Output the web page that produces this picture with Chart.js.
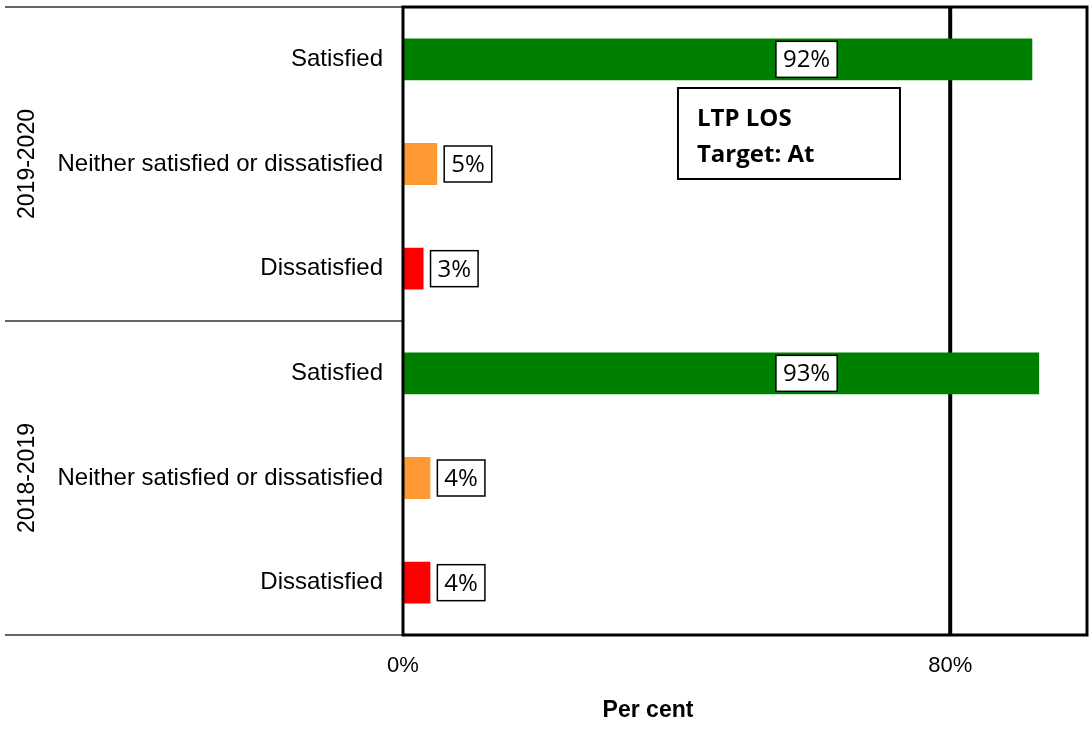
<!DOCTYPE html>
<html><head><meta charset="utf-8">
<script src="https://cdn.jsdelivr.net/npm/chart.js@4/dist/chart.umd.min.js"></script>
<style>html,body{margin:0;padding:0;background:#fff}#wrap{width:1091px;height:731px}</style>
</head><body><div id="wrap"><canvas id="c"></canvas></div>
<script>
const categories = ['Satisfied','Neither satisfied or dissatisfied','Dissatisfied','Satisfied','Neither satisfied or dissatisfied','Dissatisfied'];
const groups = ['2019-2020','2018-2019'];
const values = [92,5,3,93,4,4];
const barColors = ['#008000','#FF9933','#FF0000','#008000','#FF9933','#FF0000'];
const xTicks = [0,80];
const targetValue = 80;
const noteLines = ['LTP LOS','Target: At'];

const overlay = {
  id:'overlay',
  beforeDatasetsDraw(chart){
    const ctx = chart.ctx, a = chart.chartArea, x = chart.scales.x;
    const tx = x.getPixelForValue(targetValue);
    ctx.save();
    ctx.strokeStyle='#000'; ctx.lineWidth=4;
    ctx.beginPath(); ctx.moveTo(tx,a.top); ctx.lineTo(tx,a.bottom); ctx.stroke();
    ctx.restore();
  },
  afterDatasetsDraw(chart){
    const ctx = chart.ctx, a = chart.chartArea, x = chart.scales.x, y = chart.scales.y;
    ctx.save();
    ctx.strokeStyle = '#333'; ctx.lineWidth = 1.5;
    const step = (a.bottom - a.top)/categories.length;
    [0,3,6].forEach(i=>{
      const yy = a.top + i*step;
      ctx.beginPath(); ctx.moveTo(5,yy); ctx.lineTo(a.left,yy); ctx.stroke();
    });
    ctx.fillStyle='#000'; ctx.font='23px "Liberation Sans", Arial, sans-serif';
    ctx.textAlign='center'; ctx.textBaseline='middle';
    groups.forEach((g,gi)=>{
      const cy = y.getPixelForValue(gi*3+1);
      ctx.save(); ctx.translate(28,cy); ctx.rotate(-Math.PI/2); ctx.fillText(g,0,0); ctx.restore();
    });
    ctx.strokeStyle='#000'; ctx.lineWidth=3;
    ctx.strokeRect(a.left,a.top,a.right-a.left,a.bottom-a.top);
    ctx.font='24px "Open Sans", Lato, sans-serif';
    ctx.lineWidth=1.5;
    values.forEach((v,i)=>{
      const cy = y.getPixelForValue(i);
      const txt = v+'%';
      const w = ctx.measureText(txt).width + 14, h = 36;
      let left;
      if (v > 50) { left = x.getPixelForValue(59) - w/2; }
      else { left = x.getPixelForValue(v) + 7; }
      ctx.fillStyle='#fff'; ctx.fillRect(left,cy-h/2,w,h);
      ctx.strokeStyle='#000'; ctx.strokeRect(left,cy-h/2,w,h);
      ctx.fillStyle='#000'; ctx.textAlign='center'; ctx.textBaseline='middle';
      ctx.fillText(txt,left+w/2,cy+1);
    });
    const bx = x.getPixelForValue(40.2), by = a.top+81, bw = 222, bh = 91;
    ctx.fillStyle='#fff'; ctx.fillRect(bx,by,bw,bh);
    ctx.strokeStyle='#000'; ctx.lineWidth=2; ctx.strokeRect(bx,by,bw,bh);
    ctx.fillStyle='#000'; ctx.font='bold 24px "Open Sans", Lato, sans-serif';
    ctx.textAlign='left'; ctx.textBaseline='alphabetic';
    ctx.fillText(noteLines[0],bx+19,by+38);
    ctx.fillText(noteLines[1],bx+19,by+74);
    ctx.font='bold 23px "Liberation Sans", Arial, sans-serif';
    ctx.textAlign='center'; ctx.textBaseline='middle';
    ctx.fillText('Per cent',648,711);
    ctx.restore();
  }
};

new Chart(document.getElementById('c'),{
  type:'bar',
  data:{labels:categories,datasets:[{data:values,backgroundColor:barColors,borderWidth:0,barPercentage:0.4,categoryPercentage:1}]},
  options:{
    indexAxis:'y',responsive:true,maintainAspectRatio:false,animation:false,
    layout:{padding:{top:7,right:4,left:0,bottom:0}},
    plugins:{legend:{display:false},tooltip:{enabled:false}},
    scales:{
      x:{min:0,max:100,
        afterBuildTicks(s){s.ticks = xTicks.map(v=>({value:v}));},
        afterFit(s){s.height = 96; s.paddingLeft = 0; s.paddingRight = 0;},
        grid:{display:false,drawTicks:false},border:{display:false},
        ticks:{color:'#000',padding:18,font:{family:'"Liberation Sans", Arial, sans-serif',size:22},callback:v=>v+'%',maxRotation:0,autoSkip:false}},
      y:{
        afterFit(s){s.width = 403; s.paddingTop = 0; s.paddingBottom = 0;},
        grid:{display:false,drawTicks:false},border:{display:false},
        ticks:{color:'#000',padding:20,font:{family:'"Liberation Sans", Arial, sans-serif',size:24}}}
    }
  },
  plugins:[overlay]
});
</script></body></html>
